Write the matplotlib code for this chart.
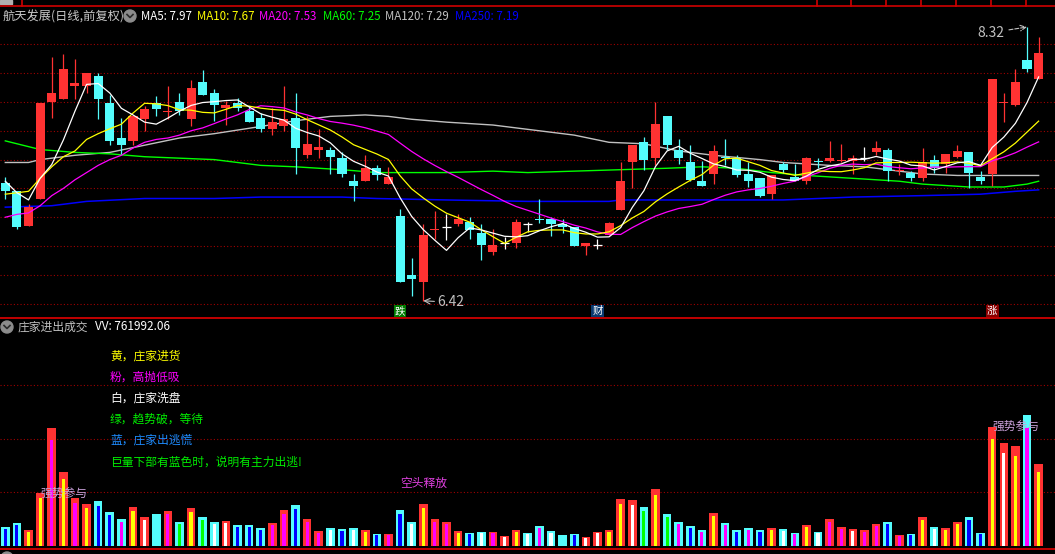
import matplotlib.pyplot as plt
import numpy as np
import pandas as pd
from matplotlib.patches import Circle
from matplotlib.transforms import blended_transform_factory

plt.rcParams['font.family'] = ['Noto Sans CJK SC', 'DejaVu Sans']

# daily bars
opens = [7.24, 7.18, 6.94, 7.13, 7.80, 7.82, 7.91, 7.91, 7.98, 7.79,
         7.55, 7.53, 7.68, 7.79, 7.73, 7.80, 7.68, 7.94, 7.86, 7.76,
         7.79, 7.74, 7.69, 7.61, 7.63, 7.69, 7.43, 7.47, 7.47, 7.41,
         7.25, 7.25, 7.34, 7.23, 7.01, 6.60, 6.55, 6.91, 6.93, 6.95,
         6.97, 6.89, 6.76, 6.82, 6.82, 6.95, 6.99, 6.99, 6.95, 6.93,
         6.80, 6.81, 6.88, 7.05, 7.38, 7.52, 7.41, 7.70, 7.47, 7.38,
         7.25, 7.30, 7.42, 7.41, 7.30, 7.27, 7.16, 7.37, 7.28, 7.25,
         7.39, 7.39, 7.39, 7.39, 7.41, 7.45, 7.47, 7.32, 7.31, 7.27,
         7.40, 7.37, 7.42, 7.45, 7.28, 7.30, 7.79, 7.78, 8.09, 7.96]
closes = [7.18, 6.93, 7.07, 7.79, 7.86, 8.03, 7.93, 8.00, 7.82, 7.53,
          7.50, 7.70, 7.75, 7.75, 7.74, 7.74, 7.90, 7.85, 7.78, 7.78,
          7.76, 7.66, 7.61, 7.66, 7.68, 7.48, 7.51, 7.49, 7.42, 7.30,
          7.22, 7.34, 7.29, 7.28, 6.55, 6.57, 6.88, 6.92, 6.93, 6.99,
          6.91, 6.81, 6.81, 6.82, 6.97, 6.95, 6.98, 6.95, 6.93, 6.80,
          6.82, 6.81, 6.96, 7.25, 7.50, 7.40, 7.65, 7.50, 7.41, 7.26,
          7.22, 7.46, 7.41, 7.29, 7.25, 7.15, 7.29, 7.33, 7.25, 7.41,
          7.38, 7.41, 7.40, 7.41, 7.41, 7.48, 7.32, 7.33, 7.27, 7.38,
          7.34, 7.44, 7.46, 7.31, 7.25, 7.96, 7.80, 7.94, 8.03, 8.14]
highs = [7.28, 7.18, 7.09, 7.79, 8.11, 8.13, 8.10, 8.00, 8.00, 7.85,
         7.69, 7.71, 7.77, 7.84, 7.91, 7.86, 7.95, 8.02, 7.89, 7.81,
         7.83, 7.77, 7.72, 7.76, 7.91, 7.86, 7.70, 7.61, 7.49, 7.45,
         7.30, 7.43, 7.36, 7.35, 7.06, 6.72, 6.95, 7.04, 7.02, 7.02,
         7.00, 6.95, 6.92, 6.86, 6.99, 6.97, 7.13, 7.00, 6.99, 6.93,
         6.82, 6.85, 6.97, 7.38, 7.50, 7.56, 7.80, 7.70, 7.54, 7.50,
         7.39, 7.50, 7.54, 7.43, 7.38, 7.27, 7.29, 7.38, 7.37, 7.42,
         7.41, 7.53, 7.51, 7.43, 7.49, 7.53, 7.48, 7.37, 7.32, 7.48,
         7.43, 7.44, 7.50, 7.45, 7.32, 7.96, 7.86, 8.03, 8.32, 8.25]
lows = [7.13, 6.92, 6.94, 7.13, 7.69, 7.82, 7.82, 7.86, 7.68, 7.50,
        7.44, 7.50, 7.60, 7.70, 7.68, 7.71, 7.63, 7.85, 7.67, 7.64,
        7.74, 7.66, 7.59, 7.57, 7.60, 7.30, 7.41, 7.41, 7.30, 7.28,
        7.11, 7.25, 7.26, 7.23, 6.55, 6.45, 6.42, 6.85, 6.84, 6.94,
        6.85, 6.70, 6.74, 6.78, 6.79, 6.90, 6.96, 6.87, 6.89, 6.80,
        6.74, 6.78, 6.88, 7.05, 7.20, 7.33, 7.36, 7.47, 7.37, 7.25,
        7.22, 7.23, 7.36, 7.28, 7.21, 7.14, 7.13, 7.31, 7.25, 7.23,
        7.34, 7.38, 7.38, 7.30, 7.39, 7.43, 7.25, 7.29, 7.25, 7.25,
        7.31, 7.31, 7.41, 7.20, 7.23, 7.22, 7.66, 7.77, 8.01, 7.96]

# volume of the indicator pane (shares)
volumes = [174e3, 212e3, 146e3, 492e3, 1100e3, 688e3, 445e3, 389e3, 417e3, 315e3,
           249e3, 361e3, 268e3, 296e3, 324e3, 221e3, 352e3, 268e3, 221e3, 231e3,
           193e3, 193e3, 165e3, 212e3, 333e3, 380e3, 249e3, 137e3, 165e3, 156e3,
           165e3, 146e3, 109e3, 109e3, 333e3, 221e3, 389e3, 249e3, 221e3, 137e3,
           118e3, 128e3, 128e3, 90e3, 146e3, 118e3, 184e3, 137e3, 100e3, 109e3,
           81e3, 128e3, 146e3, 436e3, 427e3, 361e3, 530e3, 296e3, 221e3, 184e3,
           146e3, 305e3, 212e3, 146e3, 165e3, 146e3, 165e3, 156e3, 118e3, 193e3,
           128e3, 249e3, 174e3, 156e3, 146e3, 202e3, 221e3, 100e3, 109e3, 268e3,
           174e3, 165e3, 221e3, 268e3, 118e3, 1109e3, 960e3, 931e3, 1221e3, 761992.06]
# outer bar colour: r = red, c = cyan
vol_outer = ("ccrrrrrrcc" "crrcrcrccr" "cccrrcrrcc" "crcrccrrrr" "ccrrrccccc"
             "rrrrrcrccc" "crccccrccr" "crrrrrcrcr" "crrccrrrcr")
# inner bar colour: y yellow, m pink, w white, g green, b blue, - none
vol_inner = ("bbyymymybb" "myw-mgygww" "bbbmmbmmwb" "wybmbwymmy" "bwmwywmw-b"
             "wwyywgygmb" "mymbmbywmy" "wmmwmmbmby" "wyybbywymy")

# moving averages: first values come from history before the window
ma5_head = [7.25, 7.17, 7.12, 7.27]
ma10_head = [7.16, 7.17, 7.18, 7.27, 7.35, 7.42, 7.46, 7.54, 7.58]
ma20_head = [7.00, 7.02, 7.03, 7.08, 7.15, 7.20, 7.26, 7.31, 7.36, 7.40,
             7.43, 7.48, 7.52, 7.54, 7.55, 7.57, 7.60, 7.62, 7.65]
ma60_bar = [1, 4, 7, 10, 13, 16, 19, 23, 26, 30, 33, 36, 39, 43, 46, 50, 54,
            58, 61, 64, 67, 70, 72, 74, 76, 78, 80, 82, 84, 86, 87, 89, 90]
ma60_val = [7.53, 7.47, 7.45, 7.44, 7.42, 7.41, 7.40, 7.36, 7.35, 7.33, 7.31,
            7.31, 7.31, 7.32, 7.31, 7.32, 7.33, 7.34, 7.35, 7.34, 7.31, 7.29,
            7.28, 7.27, 7.26, 7.25, 7.23, 7.22, 7.21, 7.21, 7.21, 7.23, 7.25]
ma120_bar = [1, 3, 4, 7, 10, 13, 16, 19, 23, 26, 29, 32, 34, 36, 39, 43, 46,
             50, 53, 56, 59, 62, 66, 68, 72, 75, 78, 80, 83, 85, 90]
ma120_val = [7.38, 7.38, 7.40, 7.43, 7.45, 7.50, 7.55, 7.58, 7.63, 7.67, 7.70,
             7.71, 7.70, 7.68, 7.66, 7.64, 7.61, 7.57, 7.52, 7.51, 7.46, 7.43,
             7.40, 7.38, 7.36, 7.35, 7.32, 7.30, 7.29, 7.29, 7.29]
ma250_bar = [1, 5, 8, 13, 19, 23, 30, 33, 39, 46, 53, 54, 68, 74, 80, 85, 88, 90]
ma250_val = [7.07, 7.08, 7.11, 7.13, 7.13, 7.14, 7.14, 7.13, 7.12, 7.11, 7.11,
             7.12, 7.12, 7.14, 7.15, 7.16, 7.18, 7.19]

W, H = 1055, 554
RED = '#FF3232'
CYAN = '#54FCFC'
GRID = '#A00000'
SEP = '#D00000'

fig = plt.figure(figsize=(W / 100, H / 100), dpi=100, facecolor='black')


def pane(top, bottom):
    return [0, 1 - bottom / H, 1, (bottom - top) / H]


ax = fig.add_axes(pane(22, 317), facecolor='black')
axv = fig.add_axes(pane(318, 548), facecolor='black')

n = len(closes)
x = np.arange(n)
o = np.array(opens)
c = np.array(closes)
h = np.array(highs)
l = np.array(lows)

# price pane
for p in np.arange(6.4, 8.21, 0.2):
    ax.axhline(p, color=GRID, lw=0.8, ls=(0, (1, 2)), zorder=1)

up = c > o
flat = c == o
col = np.where(up, RED, CYAN).astype(object)
col[flat] = 'white'
ax.vlines(x, l, h, colors=list(col), lw=0.9, zorder=3)
body_lo = np.minimum(o, c)
body_h = np.maximum(np.abs(c - o), 0.008)
m = ~flat
ax.bar(x[m], body_h[m], 0.78, bottom=body_lo[m], color=list(col[m]), lw=0, zorder=4)
ax.hlines(c[flat], x[flat] - 0.4, x[flat] + 0.4, colors='white', lw=0.9, zorder=4)

cs = pd.Series(closes)
ma5 = cs.rolling(5).mean().to_numpy()
ma5[:len(ma5_head)] = ma5_head
ma10 = cs.rolling(10).mean().to_numpy()
ma10[:len(ma10_head)] = ma10_head
ma20 = cs.rolling(20).mean().to_numpy()
ma20[:len(ma20_head)] = ma20_head

ax.plot(np.array(ma250_bar) - 1, ma250_val, color='#0000FF', lw=1.1, zorder=2)
ax.plot(np.array(ma120_bar) - 1, ma120_val, color='#C0C0C0', lw=1.0, zorder=2)
ax.plot(np.array(ma60_bar) - 1, ma60_val, color='#00FF00', lw=1.0, zorder=2)
ax.plot(x, ma20, color='#FF00FF', lw=0.9, zorder=5)
ax.plot(x, ma10, color='#FFFF00', lw=0.9, zorder=5)
ax.plot(x, ma5, color='white', lw=0.9, zorder=5)

ax.set_xlim(-0.4565, 90.41)
ax.set_ylim(6.3077, 8.355)
ax.axis('off')

lo_i = int(np.argmin(l))
hi_i = int(np.argmax(h))
ax.annotate(f'{l[lo_i]:.2f}', xy=(lo_i, l[lo_i]), xytext=(10, -1), textcoords='offset points',
            color='#C0C0C0', fontsize=10, va='center', ha='left',
            arrowprops=dict(arrowstyle='->', color='#C0C0C0', lw=0.8, shrinkA=0, shrinkB=0))
ax.annotate(f'{h[hi_i]:.2f}', xy=(hi_i, h[hi_i]), xytext=(-16, -4), textcoords='offset points',
            color='#C0C0C0', fontsize=10, va='center', ha='right',
            arrowprops=dict(arrowstyle='->', color='#C0C0C0', lw=0.8, ls='--', shrinkA=1, shrinkB=0))

tr = blended_transform_factory(ax.transData, ax.transAxes)
for i, t, bg in [(34, '跌', '#007A00'), (51, '财', '#0A3A70'), (85, '涨', '#8A0000')]:
    ax.text(i, 0.02, t, transform=tr, color='white', fontsize=7.5, ha='center', va='center',
            bbox=dict(boxstyle='square,pad=0.12', fc=bg, ec='none'), zorder=6)

# volume pane
for v in [500e3, 1000e3, 1500e3]:
    axv.axhline(v, color=GRID, lw=0.8, ls=(0, (1, 2)), zorder=1)
outer_c = {'r': RED, 'c': CYAN}
inner_c = {'y': '#FFFF00', 'm': '#FF00FF', 'w': '#FFFFFF', 'g': '#00FF00',
           'b': '#0000FF', '-': CYAN}
vol = np.array(volumes)
axv.bar(x, vol, 0.74, color=[outer_c[k] for k in vol_outer], lw=0, zorder=2)
axv.bar(x, vol * 0.9, 0.27, color=[inner_c[k] for k in vol_inner], lw=0, zorder=3)
axv.set_xlim(-0.4565, 90.41)
axv.set_ylim(-0.0215e6, 2.128e6)
axv.axis('off')

# overlay in pixel coordinates for the chrome and the captions
ov = fig.add_axes([0, 0, 1, 1])
ov.set_xlim(0, W)
ov.set_ylim(H, 0)
ov.axis('off')
ov.patch.set_alpha(0)
ov.set_zorder(10)

ov.plot([0, W], [6, 6], color=SEP, lw=1.2)
for xs in [22, 817, 851, 886, 921, 956, 991, 1026]:
    ov.plot([xs, xs], [0, 6], color=SEP, lw=1.2)
ov.add_patch(plt.Rectangle((0, 0), 12, 4, color='#B0B0B0'))
ov.plot([0, W], [317.5, 317.5], color=SEP, lw=1.3)
ov.plot([0, W], [549, 549], color=SEP, lw=1.3)


def icon(cx, cy):
    ov.add_patch(Circle((cx, cy), 6, color='#8C8C8C'))
    ov.plot([cx - 3, cx, cx + 3], [cy - 1.5, cy + 1.5, cy - 1.5], color='#2A2A2A', lw=1.2)


ov.text(3, 17, '航天发展(日线,前复权)', color='#C8C8C8', fontsize=8.8, va='center')
icon(130, 16)
ma_labels = [('MA5: 7.97', 'white', 141), ('MA10: 7.67', '#FFFF00', 197),
             ('MA20: 7.53', '#FF00FF', 259), ('MA60: 7.25', '#00FF00', 323),
             ('MA120: 7.29', '#C0C0C0', 385), ('MA250: 7.19', '#0000FF', 455)]
for txt, cl, xp in ma_labels:
    ov.text(xp, 17, txt, color=cl, fontsize=8.3, va='center')

icon(7, 327)
ov.text(18, 327, '庄家进出成交', color='#C0C0C0', fontsize=8.5, va='center')
ov.text(95, 327, f'VV: {volumes[-1]:.2f}', color='white', fontsize=8.5, va='center')

legend = [('黄，庄家进货', '#FFFF00', 356), ('粉，高抛低吸', '#FF00FF', 377),
          ('白，庄家洗盘', '#FFFFFF', 398), ('绿，趋势破，等待', '#00EE00', 419),
          ('蓝，庄家出逃慌', '#1E8CFF', 440), ('巨量下部有蓝色时，说明有主力出逃!', '#00EE00', 462)]
for txt, cl, yp in legend:
    ov.text(110, yp, txt, color=cl, fontsize=8.5, va='center')

ov.text(64, 493, '强势参与', color='#C8A0D8', fontsize=8.5, va='center', ha='center')
ov.text(1016, 426, '强势参与', color='#C8A0D8', fontsize=8.5, va='center', ha='center')
ov.text(424, 483, '空头释放', color='#E040E0', fontsize=8.5, va='center', ha='center')
ov.add_patch(Circle((7, 558), 6, color='#8C8C8C'))

fig.savefig('out.png', dpi=100, facecolor='black')
